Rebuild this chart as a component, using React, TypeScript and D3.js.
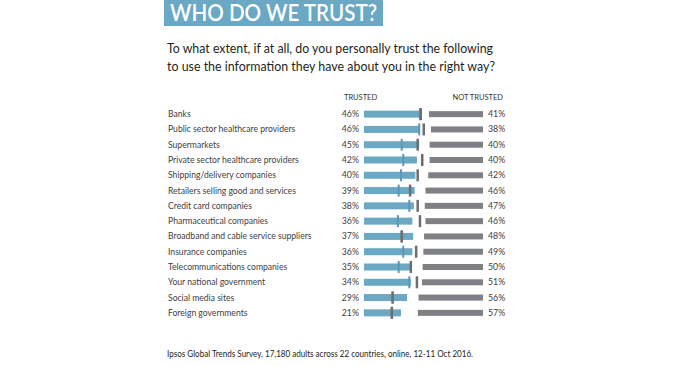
import * as d3 from "d3";
import React, { useEffect, useRef } from "react";

const categories = [
  "Banks",
  "Public sector healthcare providers",
  "Supermarkets",
  "Private sector healthcare providers",
  "Shipping/delivery companies",
  "Retailers selling good and services",
  "Credit card companies",
  "Pharmaceutical companies",
  "Broadband and cable service suppliers",
  "Insurance companies",
  "Telecommunications companies",
  "Your national government",
  "Social media sites",
  "Foreign governments",
];
const trusted = [46, 46, 45, 42, 40, 39, 38, 36, 37, 36, 35, 34, 29, 21];
const notTrusted = [41, 38, 40, 40, 42, 46, 47, 46, 48, 49, 50, 51, 56, 57];
// marker positions, in the trusted bar's scale
const blueMarks = [46, 45, 22, 24, 21, 18, 32, 17, 22, 24, 18, 32, 10, 9];
const greyMarks = [47, 51, 43, 49, 43, 33, 43, 46, 22, 41, 34, 42, 10, 9];

const FONT = "Lato, 'Open Sans', sans-serif";
const BLUE = "#6aa8c3";
const GREY = "#7f8083";

const App = () => {
  const ref = useRef<SVGSVGElement | null>(null);

  useEffect(() => {
    const svg = d3.select(ref.current);
    svg.selectAll("*").remove();

    // title box
    svg.append("rect").attr("x", 164).attr("y", 0).attr("width", 219).attr("height", 26).attr("fill", BLUE);
    svg
      .append("text")
      .attr("x", 170)
      .attr("y", 21)
      .attr("fill", "#fff")
      .style("font-family", FONT)
      .style("font-size", "22px")
      .style("font-weight", 600)
      .attr("textLength", 207)
      .attr("lengthAdjust", "spacingAndGlyphs")
      .text("WHO DO WE TRUST?");

    const sub = [
      "To what extent, if at all, do you personally trust the following",
      "to use the information they have about you in the right way?",
    ];
    const subWidths = [326, 328];
    svg
      .selectAll(".sub")
      .data(sub)
      .enter()
      .append("text")
      .attr("class", "sub")
      .attr("x", 167)
      .attr("y", (d, i) => 53 + i * 18)
      .attr("fill", "#231f20")
      .style("font-family", FONT)
      .style("font-size", "13px")
      .attr("textLength", (d, i) => subWidths[i])
      .attr("lengthAdjust", "spacingAndGlyphs")
      .text((d) => d);

    const y = d3
      .scaleBand()
      .domain(categories)
      .range([106.5, 320.5]);

    // trusted bars grow right from 364, not trusted bars grow left from 483
    const xT = d3.scaleLinear().domain([0, 50]).range([385, 423]);
    const xN = d3.scaleLinear().domain([0, 50]).range([457.2, 422.7]);

    svg
      .append("text")
      .attr("x", 344)
      .attr("y", 100)
      .attr("fill", "#333")
      .style("font-family", FONT)
      .style("font-size", "7.5px")
      .text("TRUSTED");
    svg
      .append("text")
      .attr("x", 503)
      .attr("y", 100)
      .attr("text-anchor", "end")
      .attr("fill", "#333")
      .style("font-family", FONT)
      .style("font-size", "7.5px")
      .text("NOT TRUSTED");

    const rows = svg
      .selectAll(".row")
      .data(categories)
      .enter()
      .append("g")
      .attr("class", "row")
      .attr("transform", (d) => `translate(0,${y(d)! + y.bandwidth() / 2})`);

    rows
      .append("text")
      .attr("x", 168)
      .attr("y", 3)
      .attr("fill", "#414042")
      .style("font-family", FONT)
      .style("font-size", "8.6px")
      .text((d) => d);

    rows
      .append("text")
      .attr("x", 359)
      .attr("y", 3)
      .attr("text-anchor", "end")
      .attr("fill", "#414042")
      .style("font-family", FONT)
      .style("font-size", "8.8px")
      .text((d, i) => `${trusted[i]}%`);

    rows
      .append("text")
      .attr("x", 488)
      .attr("y", 3)
      .attr("fill", "#414042")
      .style("font-family", FONT)
      .style("font-size", "8.8px")
      .text((d, i) => `${notTrusted[i]}%`);

    rows
      .append("rect")
      .attr("x", 364)
      .attr("y", -3.5)
      .attr("height", 7)
      .attr("width", (d, i) => xT(trusted[i]) - 364)
      .attr("fill", BLUE);

    rows
      .append("rect")
      .attr("x", (d, i) => xN(notTrusted[i]))
      .attr("y", -3)
      .attr("height", 6)
      .attr("width", (d, i) => 483 - xN(notTrusted[i]))
      .attr("fill", GREY);

    rows
      .append("rect")
      .attr("x", (d, i) => xT(blueMarks[i]) - 1)
      .attr("y", -6)
      .attr("width", 2)
      .attr("height", 12)
      .attr("fill", "#5b98b3");

    rows
      .append("rect")
      .attr("x", (d, i) => xT(greyMarks[i]) - 1.25)
      .attr("y", -6)
      .attr("width", 2.5)
      .attr("height", 12)
      .attr("fill", "#6d6e71");

    svg
      .append("text")
      .attr("x", 167)
      .attr("y", 357)
      .attr("fill", "#231f20")
      .style("font-family", FONT)
      .style("font-size", "9px")
      .attr("textLength", 306)
      .attr("lengthAdjust", "spacingAndGlyphs")
      .text("Ipsos Global Trends Survey, 17,180 adults across 22 countries, online, 12-11 Oct 2016.");
  }, []);

  return (
    <svg
      ref={ref}
      width={700}
      height={366}
      style={{ position: "absolute", left: 0, top: 0, background: "#fff" }}
    />
  );
};

export default App;
